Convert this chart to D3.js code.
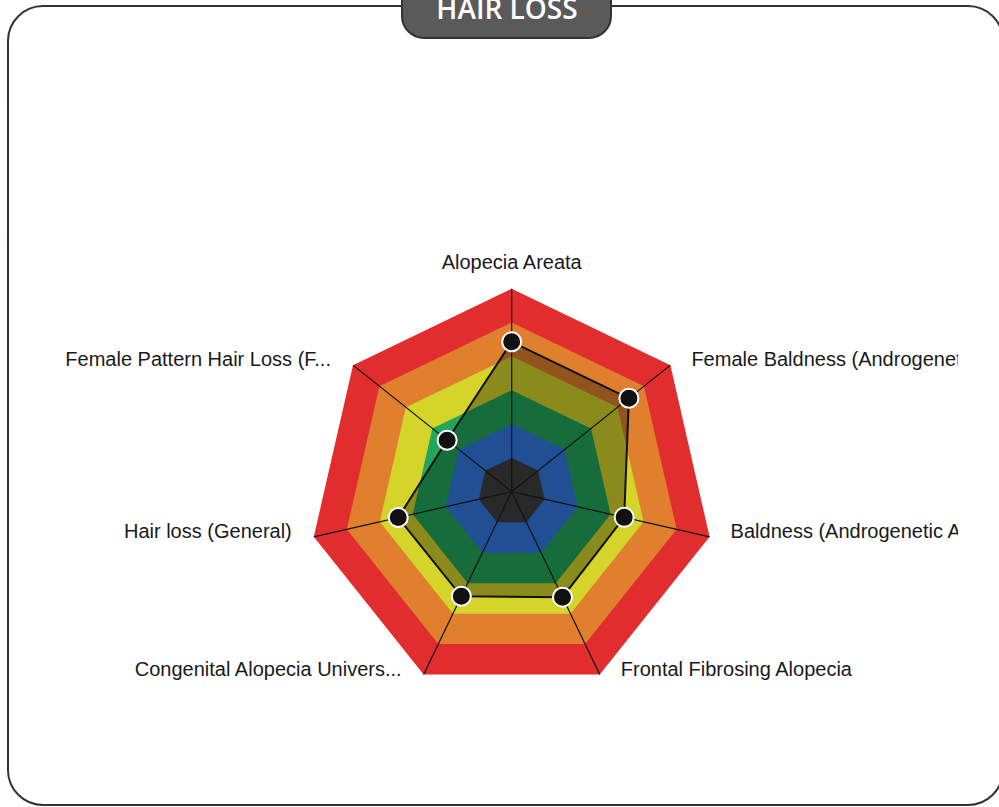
<!DOCTYPE html>
<html>
    <head>
        <script src="https://cdn.jsdelivr.net/npm/d3@7"></script>
        <style>
            body { margin: 0; background: #fff; }
        </style>
    </head>
    <body>
        <svg id="chart" width="999" height="807"></svg>
        <script>
            // Data
            var axes = ["Alopecia Areata", "Female Baldness (Androgenetic Alopecia)", "Baldness (Androgenetic Alopecia)",
                        "Frontal Fibrosing Alopecia", "Congenital Alopecia Univers...", "Hair loss (General)", "Female Pattern Hair Loss (F..."];
            var values = [4.43, 4.43, 3.41, 3.46, 3.43, 3.44, 2.44];
            var levels = [6, 5, 4, 3, 2, 1];
            var levelColors = ["#e12d2e", "#e07f2e", "#d4d42a", "#23a55b", "#3179e0", "#3f3f3f"];
            var title = "HAIR LOSS";

            var svg = d3.select("svg#chart");
            var cx = 511.7, cy = 491.7;
            var r = d3.scaleLinear().domain([0, 6]).range([0, 203]);
            var angle = d3.scaleLinear().domain([0, axes.length]).range([0, 2 * Math.PI]);

            function pt(i, v) {
                var a = angle(i);
                return [cx + Math.sin(a) * r(v), cy - Math.cos(a) * r(v)];
            }

            // Card
            svg.append("rect").attr("x", 8).attr("y", 6).attr("width", 995).attr("height", 799)
                .attr("rx", 35).attr("fill", "#fff").attr("stroke", "#333").attr("stroke-width", 2);

            // labels on the right get cut at the chart's edge
            var clip = svg.append("clipPath").attr("id", "clip");
            clip.append("rect").attr("x", 0).attr("y", 0).attr("width", 958).attr("height", 807);
            var g = svg.append("g").attr("clip-path", "url(#clip)");

            // Bands
            g.selectAll("polygon.band").data(levels).enter().append("polygon")
                .attr("class", "band")
                .attr("points", function(l) { return axes.map(function(d, i) { return pt(i, l).join(","); }).join(" "); })
                .attr("fill", function(l, i) { return levelColors[i]; });

            // Data area
            var line = d3.line().curve(d3.curveLinearClosed);
            var dataPts = values.map(function(v, i) { return pt(i, v); });
            g.append("path").attr("d", line(dataPts)).attr("fill", "#000").attr("fill-opacity", 0.34);

            // Axis lines
            g.selectAll("line.axis").data(axes).enter().append("line")
                .attr("x1", cx).attr("y1", cy)
                .attr("x2", function(d, i) { return pt(i, 6)[0]; })
                .attr("y2", function(d, i) { return pt(i, 6)[1]; })
                .attr("stroke", "#111").attr("stroke-width", 1.2);

            g.append("path").attr("d", line(dataPts)).attr("fill", "none").attr("stroke", "#111").attr("stroke-width", 2);

            g.selectAll("circle.pt").data(dataPts).enter().append("circle")
                .attr("cx", function(d) { return d[0]; }).attr("cy", function(d) { return d[1]; })
                .attr("r", 9.5).attr("fill", "#111").attr("stroke", "#fff").attr("stroke-width", 2);

            // Labels
            g.selectAll("text.label").data(axes).enter().append("text")
                .attr("x", function(d, i) {
                    var p = pt(i, 6), s = Math.sin(angle(i));
                    return Math.abs(s) < 0.01 ? p[0] : p[0] + (s > 0 ? 21 : -22);
                })
                .attr("y", function(d, i) { return i === 0 ? pt(i, 6)[1] - 20 : pt(i, 6)[1] + 1; })
                .attr("text-anchor", function(d, i) {
                    var s = Math.sin(angle(i));
                    return Math.abs(s) < 0.01 ? "middle" : (s > 0 ? "start" : "end");
                })
                .style("font-family", "'Liberation Sans', Arial, sans-serif").style("font-size", "20px")
                .attr("fill", "#1a1a1a")
                .text(function(d) { return d; });

            // Title pill
            svg.append("rect").attr("x", 402).attr("y", -30).attr("width", 209).attr("height", 68)
                .attr("rx", 22).attr("fill", "#5a5a5a").attr("stroke", "#333").attr("stroke-width", 2);
            svg.append("text").attr("x", 507).attr("y", 19).attr("text-anchor", "middle")
                .style("font-family", "'Open Sans', sans-serif").style("font-size", "28px").style("font-weight", "600")
                .attr("fill", "#fff").text(title);
        </script>
    </body>
</html>
